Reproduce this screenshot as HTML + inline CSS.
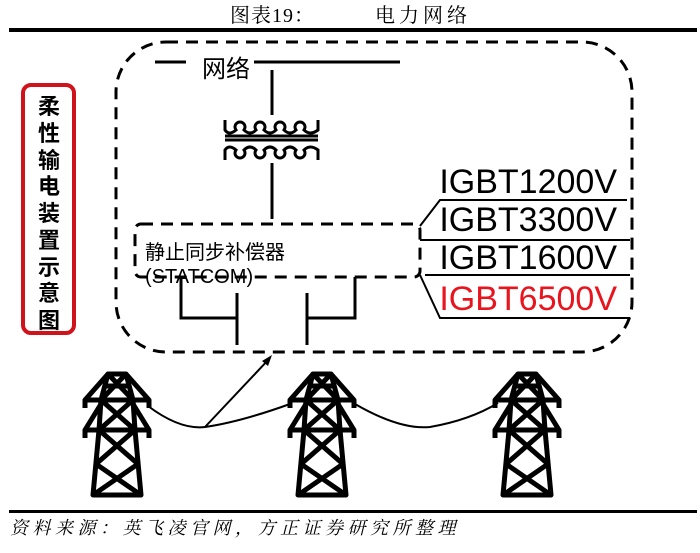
<!DOCTYPE html>
<html><head><meta charset="utf-8"><style>
body{margin:0;background:#fff;width:700px;height:553px;overflow:hidden;position:relative}
svg{position:absolute;left:0;top:0}
</style></head><body>
<svg width="700" height="553" viewBox="0 0 700 553" xmlns="http://www.w3.org/2000/svg">
<defs>
<g id="tw" fill="none" stroke="#000" stroke-width="5" stroke-linejoin="round">
<path d="M-9,0 H9 L16,26 L18,56 L24,121 H-24 L-18,56 L-16,26 Z"/>
<path d="M-32,34 V26 H32 V34 M-32,26 L-9,0 M32,26 L9,0"/>
<path d="M-32,64 V56 H32 V64 M-32,56 L-16,30 M32,56 L16,30"/>
<path d="M-9,0 L16,26 M9,0 L-16,26 M-16,26 L18,56 M16,26 L-18,56 M-18,56 L21,90 M18,56 L-21,90 M-21,90 L24,121 M21,90 L-24,121 M-13,12 H13"/>
</g>
</defs>
<text x="230" y="22" font-family="Liberation Serif,'Noto Serif CJK SC',serif" font-size="20" letter-spacing="1">图表19：</text>
<text x="375" y="22" font-family="Liberation Serif,'Noto Serif CJK SC',serif" font-size="20" letter-spacing="4">电力网络</text>
<rect x="9" y="28" width="688" height="4" fill="#000"/>
<rect x="116" y="42" width="516" height="310" rx="50" fill="none" stroke="#000" stroke-width="3" stroke-dasharray="12,8"/>
<rect x="23" y="85" width="51" height="248" rx="8" fill="none" stroke="#d0121b" stroke-width="4"/>
<text font-family="'Liberation Sans','Noto Sans CJK SC',sans-serif" font-size="22" font-weight="bold" text-anchor="middle">
<tspan x="49" y="114">柔</tspan><tspan x="49" y="141">性</tspan><tspan x="49" y="168">输</tspan><tspan x="49" y="194">电</tspan><tspan x="49" y="221">装</tspan><tspan x="49" y="248">置</tspan><tspan x="49" y="275">示</tspan><tspan x="49" y="301">意</tspan><tspan x="49" y="328">图</tspan>
</text>
<g stroke="#000" stroke-width="3" fill="none">
<line x1="155" y1="62" x2="186" y2="62"/>
<line x1="254" y1="62" x2="400" y2="62"/>
<line x1="272" y1="70" x2="272" y2="115"/>
<line x1="272" y1="163" x2="272" y2="219"/>
<path d="M225,120 V130 Q229,136 236,130 a5,5 0 1 1 8,0 Q250,136 256,130 a5,5 0 1 1 8,0 Q270,136 276,130 a5,5 0 1 1 8,0 Q290,136 296,130 a5,5 0 1 1 8,0 Q310,136 318,130 V120"/>
<line x1="225" y1="136" x2="318" y2="136"/>
<line x1="225" y1="140" x2="318" y2="140"/>
<path d="M225,160 V150 Q229,144 236,150 a5,5 0 1 0 8,0 Q250,144 256,150 a5,5 0 1 0 8,0 Q270,144 276,150 a5,5 0 1 0 8,0 Q290,144 296,150 a5,5 0 1 0 8,0 Q310,144 318,150 V160"/>
<rect x="135" y="224" width="285" height="53" rx="6" stroke-dasharray="12,8"/>
<path d="M181,277 V318 H237 M237,293 V345 M307,293 V345 M307,318 H355 V277"/>
</g>
<text x="145" y="259" font-family="'Liberation Sans','Noto Sans CJK SC',sans-serif" font-size="20">静止同步补偿器</text>
<text x="145" y="283" font-family="'Liberation Sans','Noto Sans CJK SC',sans-serif" font-size="20">(STATCOM)</text>
<text x="202" y="77" font-family="'Liberation Sans','Noto Sans CJK SC',sans-serif" font-size="24">网络</text>
<g stroke="#000" stroke-width="2" fill="none">
<path d="M420,226 L440,200 H627 M420,240 H630 M425,275 H630 M420,275 L440,318 H630"/>
</g>
<g font-family="'Liberation Sans',sans-serif" font-size="34" text-anchor="end">
<text x="617" y="193">IGBT1200V</text>
<text x="617" y="231">IGBT3300V</text>
<text x="617" y="269">IGBT1600V</text>
<text x="617" y="310" fill="#e8141e">IGBT6500V</text>
</g>
<g stroke="#000" stroke-width="2" fill="none">
<path d="M148,406 Q180,430 205,427 Q240,422 290,404"/>
<path d="M355,404 Q400,430 430,427 Q470,420 498,403"/>
<line x1="205" y1="427" x2="270" y2="358"/>
</g>
<path d="M272,355 L262,361 L268,366 Z" fill="#000"/>
<use href="#tw" x="117" y="374"/>
<use href="#tw" x="322" y="374"/>
<use href="#tw" x="527" y="374"/>
<rect x="9" y="510" width="688" height="3" fill="#000"/>
<text x="10" y="534" font-family="'Liberation Serif','Noto Serif CJK SC',serif" font-size="18" font-style="italic" letter-spacing="4.5">资料来源：英飞凌官网，方正证券研究所整理</text>
</svg>
</body></html>
